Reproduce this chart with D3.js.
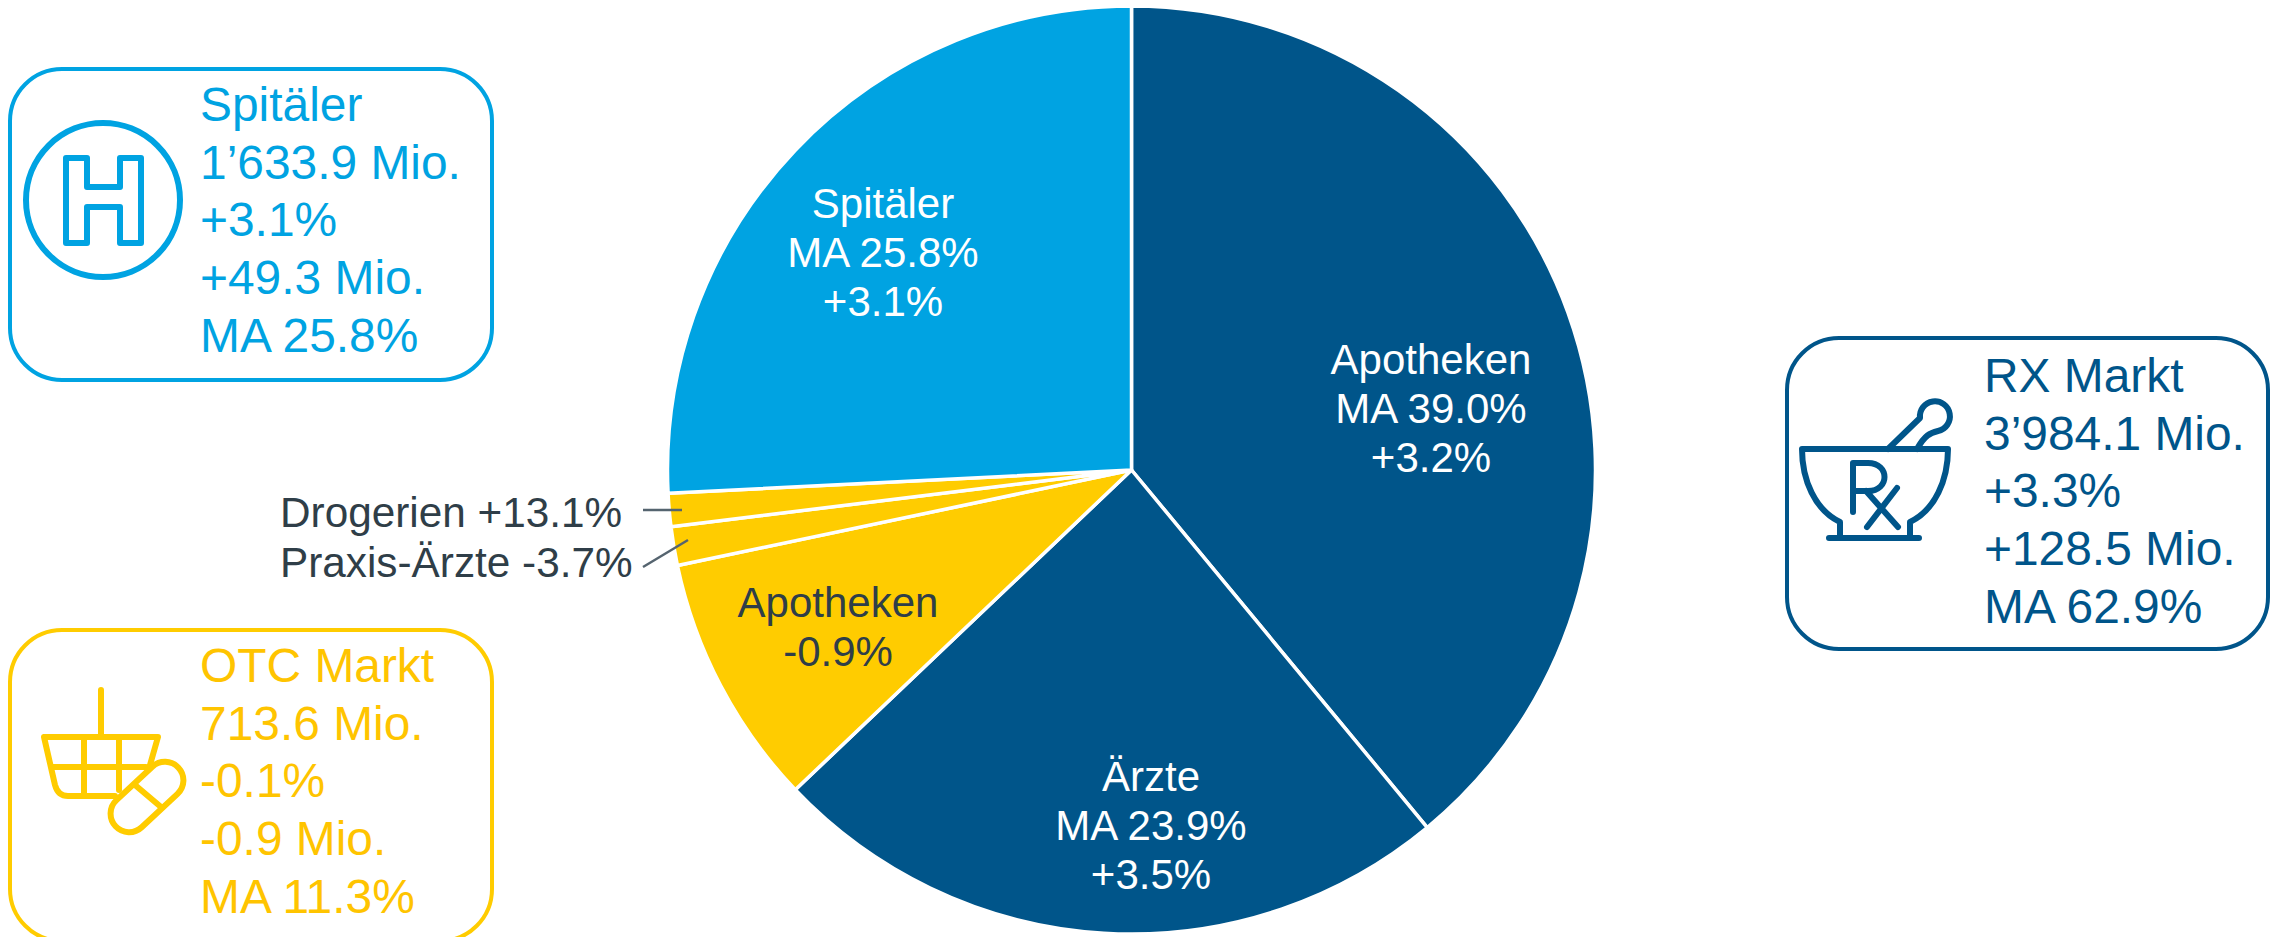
<!DOCTYPE html>
<html><head><meta charset="utf-8">
<style>html,body{margin:0;padding:0;background:#fff;overflow:hidden}svg{display:block}text{font-family:"Liberation Sans",Arial,sans-serif}</style>
<script src="https://cdn.jsdelivr.net/npm/d3@7/dist/d3.min.js"></script>
</head><body><svg id="c" width="2275" height="937"></svg>
<script>
const segments = ["Apotheken RX","Ärzte","Apotheken OTC","Praxis-Ärzte","Drogerien","Spitäler"];
const shares = [39.0,23.9,8.8,1.35,1.15,25.8];
const segmentColors = ["#00558a","#00558a","#ffcc00","#ffcc00","#ffcc00","#00a3e2"];
const pieLabels = [["Apotheken","MA 39.0%","+3.2%"],["Ärzte","MA 23.9%","+3.5%"],["Apotheken","-0.9%"],[],[],["Spitäler","MA 25.8%","+3.1%"]];
const pieLabelColors = ["#ffffff","#ffffff","#2f3e48","#fff","#fff","#ffffff"];
const pieLabelAnchors = [[1431,374],[1151,791],[838,617],[0,0],[0,0],[883,218]];
const outsideLabels = ["Drogerien +13.1%","Praxis-Ärzte -3.7%"];
const cards = [
 {lines:["Spitäler","1’633.9 Mio.","+3.1%","+49.3 Mio.","MA 25.8%"],color:"#00a3e2",textColor:"#00a3e2",x:10,y:69,tx:200,by:121},
 {lines:["OTC Markt","713.6 Mio.","-0.1%","-0.9 Mio.","MA 11.3%"],color:"#ffcc00",textColor:"#ffc400",x:10,y:630,tx:200,by:682},
 {lines:["RX Markt","3’984.1 Mio.","+3.3%","+128.5 Mio.","MA 62.9%"],color:"#00558a",textColor:"#00558a",x:1787,y:338,tx:1984,by:392}
];
const svg = d3.select("#c");
const cx=1131.5, cy=470, R=464;
const pie = d3.pie().sort(null).value(d=>d)(shares);
const arc = d3.arc().innerRadius(0).outerRadius(R);
svg.append("g").attr("transform",`translate(${cx},${cy})`).selectAll("path").data(pie).join("path")
  .attr("d",arc).attr("fill",(d,i)=>segmentColors[i]).attr("stroke","#fff").attr("stroke-width",3.5).attr("stroke-linejoin","round");
// in-slice labels
pieLabels.forEach((ls,i)=>{
  const t=svg.append("g");
  ls.forEach((s,j)=>t.append("text").attr("x",pieLabelAnchors[i][0]).attr("y",pieLabelAnchors[i][1]+j*49)
    .attr("text-anchor","middle").attr("font-size",42).attr("fill",pieLabelColors[i]).text(s));
});
// outside labels and leaders
svg.selectAll(".o").data(outsideLabels).join("text").attr("x",280).attr("y",(d,i)=>[527,577][i])
  .attr("font-size",42.3).attr("fill","#2f3e48").text(d=>d);
svg.append("path").attr("d","M643 510H682M643 567L688 540").attr("stroke","#55646f").attr("stroke-width",2.5).attr("fill","none");
// cards
cards.forEach(c=>{
  svg.append("rect").attr("x",c.x).attr("y",c.y).attr("width",c.x>1000?481:482).attr("height",311).attr("rx",52)
    .attr("fill","none").attr("stroke",c.color).attr("stroke-width",4);
  c.lines.forEach((s,j)=>svg.append("text").attr("x",c.tx).attr("y",c.by+j*57.7).attr("font-size",47.9).attr("fill",c.textColor).text(s));
});
const ic=(col,w)=>svg.append("g").attr("fill","none").attr("stroke",col).attr("stroke-width",w||6).attr("stroke-linejoin","round").attr("stroke-linecap","round");
// hospital icon
let g=ic("#00a3e2");
g.append("circle").attr("cx",103).attr("cy",200).attr("r",77);
g.append("path").attr("d","M66 158H87V187H120V158H141V243H120V207H87V243H66Z");
// basket icon
g=ic("#ffcc00");
g.append("path").attr("d","M101 690V737M44 737H158L150 765M44 737L55 785Q58 796 68 796H115M52 767H146M84 737V796M119 737V790");
g.append("rect").attr("x",-43).attr("y",-18.5).attr("width",86).attr("height",37).attr("rx",18.5)
  .attr("transform","translate(147,797) rotate(-43)").attr("fill","#fff");
g.append("path").attr("d","M135 785L161 807");
// mortar icon
g=ic("#00558a");
g.append("path").attr("d","M1829 538H1919M1840 538V522C1815 510 1802 480 1802 449H1948C1948 480 1935 510 1910 522V538");
g.append("path").attr("d","M1888 449L1920 418A15 15 0 1 1 1938 431C1930 433 1925 435 1917 449");
g.append("path").attr("d","M1853 512V463H1868C1890 463 1890 491 1868 491H1853M1866 491L1898 527M1897 488L1867 527");
</script></body></html>
